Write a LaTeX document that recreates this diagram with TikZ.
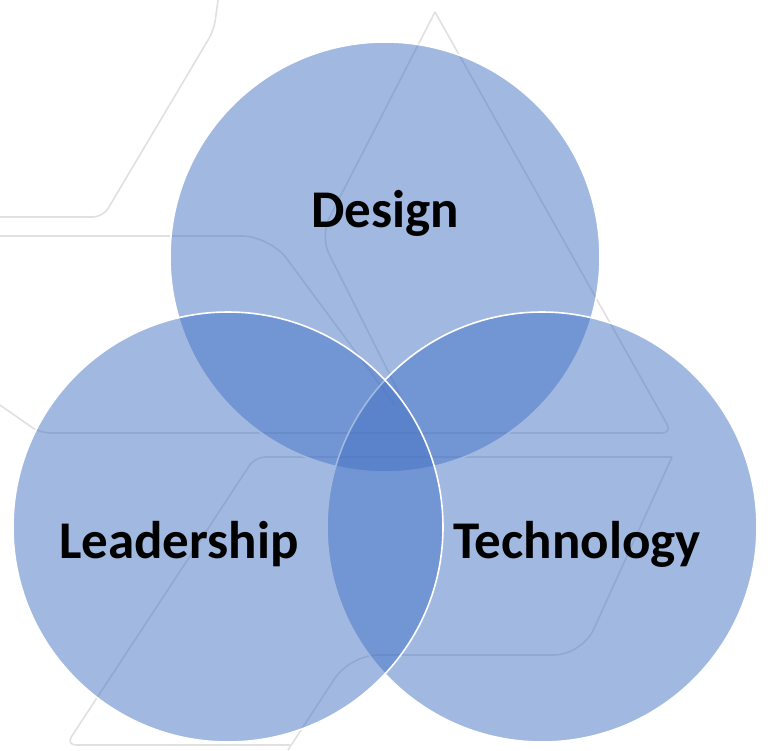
\documentclass[tikz,border=0pt]{standalone}
\usepackage{fontspec}
\setmainfont{Carlito}
\begin{document}
\begin{tikzpicture}[x=1pt,y=-1pt,
  venn/.style={circle, minimum size=430pt, inner sep=0pt, fill={rgb,255:red,68;green,114;blue,196}, fill opacity=0.5, draw=white, draw opacity=1, line width=1.6pt},
  lbl/.style={font=\bfseries\fontsize{53}{60}\selectfont, text=black, inner sep=0pt, anchor=base},
  wmark/.style={draw=black!12, line width=1.6pt, rounded corners=10pt, line join=round}]
\useasboundingbox (0,0) rectangle (768,750);
% faint watermark
\draw[wmark] (218,0) -- (214,30) -- (103,217) -- (0,217);
\draw[wmark, rounded corners=28pt] (0,236) -- (270,236) -- (395,405);
\draw[wmark, rounded corners=20pt] (435,12) -- (320,236) -- (400,395);
\draw[wmark] (435,12) -- (672,433) -- (40,433) -- (0,405);
\draw[wmark] (672,457) -- (255,457) -- (66,745) -- (290,745);
\draw[wmark, rounded corners=28pt] (672,457) -- (582,655) -- (350,655) -- (288,750);
% circles
\node[venn] (design) at (385,257) {};
\node[venn] (tech) at (542,527) {};
\node[venn] (lead) at (228,527) {};
% labels
\node[lbl] (tdesign) at (385,227) {Design};
\node[lbl] (tlead) at (179,558) {Leadership};
\node[lbl] (ttech) at (577,558) {Technology};
\end{tikzpicture}
\end{document}
